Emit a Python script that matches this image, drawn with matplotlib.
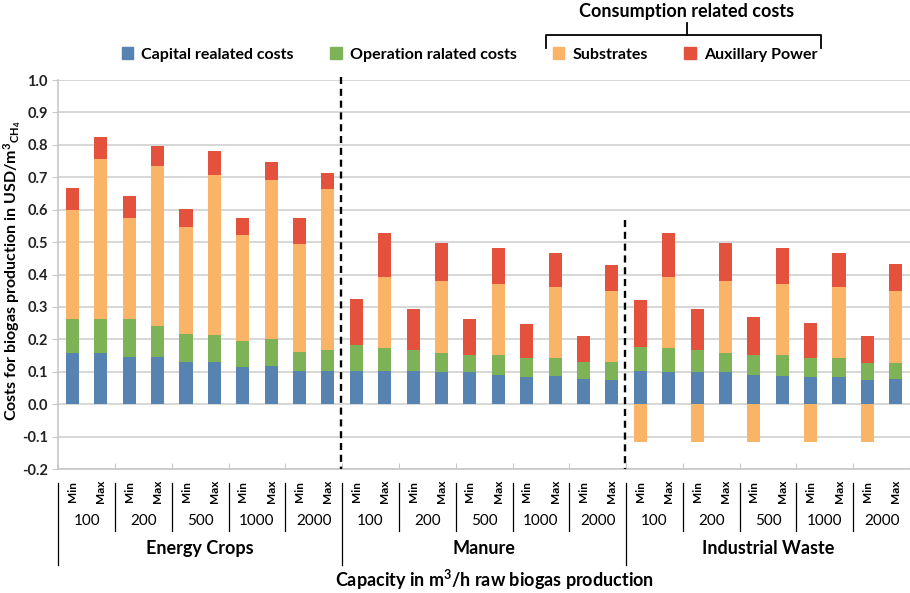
import numpy as np
import matplotlib.pyplot as plt
from matplotlib.lines import Line2D
from matplotlib.patches import Patch

plt.rcParams['font.family'] = ['Lato', 'DejaVu Sans']
plt.rcParams['mathtext.default'] = 'regular'

# data (USD per m3 CH4)
groups = ['Energy Crops', 'Manure', 'Industrial Waste']
capacities = ['100', '200', '500', '1000', '2000']
minmax = ['Min', 'Max']

capital = [0.157, 0.157, 0.147, 0.147, 0.131, 0.131, 0.116, 0.119, 0.103, 0.103,
           0.101, 0.101, 0.101, 0.098, 0.098, 0.091, 0.085, 0.088, 0.079, 0.076,
           0.104, 0.098, 0.098, 0.098, 0.091, 0.088, 0.085, 0.085, 0.075, 0.078]
operation = [0.107, 0.107, 0.117, 0.095, 0.087, 0.083, 0.078, 0.083, 0.059, 0.065,
             0.082, 0.073, 0.067, 0.060, 0.054, 0.061, 0.058, 0.055, 0.052, 0.055,
             0.073, 0.076, 0.070, 0.060, 0.061, 0.064, 0.058, 0.058, 0.052, 0.049]
substrates = [0.334, 0.492, 0.312, 0.492, 0.330, 0.492, 0.327, 0.489, 0.331, 0.495,
              0.0, 0.219, 0.0, 0.222, 0.0, 0.219, 0.0, 0.219, 0.0, 0.218,
              -0.118, 0.219, -0.118, 0.222, -0.118, 0.219, -0.118, 0.219, -0.118, 0.222]
power = [0.068, 0.068, 0.065, 0.062, 0.053, 0.074, 0.055, 0.055, 0.083, 0.049,
         0.142, 0.135, 0.126, 0.117, 0.111, 0.111, 0.105, 0.105, 0.080, 0.081,
         0.145, 0.135, 0.126, 0.117, 0.117, 0.111, 0.108, 0.105, 0.084, 0.084]

c_blue = '#5683b0'
c_green = '#7db356'
c_orange = '#f9b468'
c_red = '#e4523e'
grey = '#c8c8c8'

capital = np.array(capital)
operation = np.array(operation)
substrates = np.array(substrates)
power = np.array(power)
x = np.arange(len(capital))

fig = plt.figure(figsize=(9.1, 5.93), dpi=100)
ax = fig.add_axes([0.064, 0.209, 0.936, 0.656])

w = 0.46
base = capital + operation
sub_bottom = np.where(substrates >= 0, base, 0)
pow_bottom = base + np.clip(substrates, 0, None)
ax.bar(x, capital, w, color=c_blue, zorder=3)
ax.bar(x, operation, w, bottom=capital, color=c_green, zorder=3)
ax.bar(x, substrates, w, bottom=sub_bottom, color=c_orange, zorder=3)
ax.bar(x, power, w, bottom=pow_bottom, color=c_red, zorder=3)

ax.set_xlim(-0.5, 29.5)
ax.set_ylim(-0.2, 1.0)
ax.set_yticks(np.arange(-0.2, 1.01, 0.1))
ax.set_yticklabels([f'{v:.1f}' for v in np.arange(-0.2, 1.01, 0.1)],
                   fontsize=10.5, fontweight='bold', color='#222222')
ax.yaxis.grid(True, color='#d4d4d4', lw=1.3, zorder=0)
ax.set_axisbelow(True)
for s in ['top', 'right']:
    ax.spines[s].set_visible(False)
ax.spines['left'].set_color(grey)
ax.spines['bottom'].set_color(grey)
ax.spines['left'].set_linewidth(1.2)
ax.spines['bottom'].set_linewidth(1.2)
ax.tick_params(axis='y', colors=grey, length=4, labelcolor='#222222')
ax.set_xticks(np.arange(-0.5, 30, 2))
ax.set_xticklabels([])
ax.tick_params(axis='x', direction='in', length=4, colors=grey)

ax.set_ylabel('Costs for biogas production in USD/m$^{3}$$_{CH_4}$',
              fontsize=11.5, fontweight='bold')
ax.yaxis.set_label_coords(-0.041, 0.51)

# dashed separators between feedstock groups
ax.plot([9.45, 9.45], [1.01, -0.2], ls=(0, (3, 2)), color='black', lw=1.7,
        clip_on=False, zorder=4)
ax.plot([19.45, 19.45], [0.568, -0.2], ls=(0, (3, 2)), color='black', lw=1.7,
        clip_on=False, zorder=4)

# multi-level x axis labels
tr = ax.get_xaxis_transform()
for i in x:
    ax.text(i, -0.058, minmax[i % 2], transform=tr, rotation=90, ha='center',
            va='center', fontsize=8.5, fontweight='bold')
for g in range(3):
    for c in range(5):
        left = g * 10 + c * 2 - 0.5
        ax.text(left + 1, -0.134, capacities[c], transform=tr, ha='center',
                va='center', fontsize=11)
        if c > 0:
            ax.add_line(Line2D([left, left], [-0.036, -0.16], transform=tr,
                               color='black', lw=0.9, clip_on=False))
    gl = g * 10 - 0.5
    ax.add_line(Line2D([gl, gl], [-0.036, -0.247], transform=tr,
                       color='black', lw=0.9, clip_on=False))
    ax.text(gl + 5, -0.203, groups[g], transform=tr, ha='center', va='center',
            fontsize=13, fontweight='bold')

fig.text(495 / 910, 0.022, 'Capacity in m$^{3}$/h raw biogas production',
         ha='center', va='center', fontsize=13, fontweight='bold')

# legend
handles = [Patch(color=c_blue, label='Capital realated costs'),
           Patch(color=c_green, label='Operation ralated costs'),
           Patch(color=c_orange, label='Substrates'),
           Patch(color=c_red, label='Auxillary Power')]
leg = fig.legend(handles=handles, loc='center', bbox_to_anchor=(0.516, 0.908),
                 ncol=4, frameon=False, handlelength=0.7, handleheight=0.7,
                 handletextpad=0.5, columnspacing=2.3,
                 prop={'size': 11.5, 'weight': 'bold'})

# bracket for consumption related costs
H, W = 593.0, 910.0
def fx(px):
    return px / W
def fy(py):
    return 1 - py / H
fig.add_artist(Line2D([fx(546), fx(546), fx(821), fx(821)],
                      [fy(48), fy(35), fy(35), fy(48)], color='black', lw=1.3))
fig.add_artist(Line2D([fx(687), fx(687)], [fy(35), fy(23)], color='black', lw=1.3))
fig.text(fx(687), fy(12), 'Consumption related costs', ha='center', va='center',
         fontsize=13, fontweight='bold')

fig.savefig('out.png', dpi=100)
